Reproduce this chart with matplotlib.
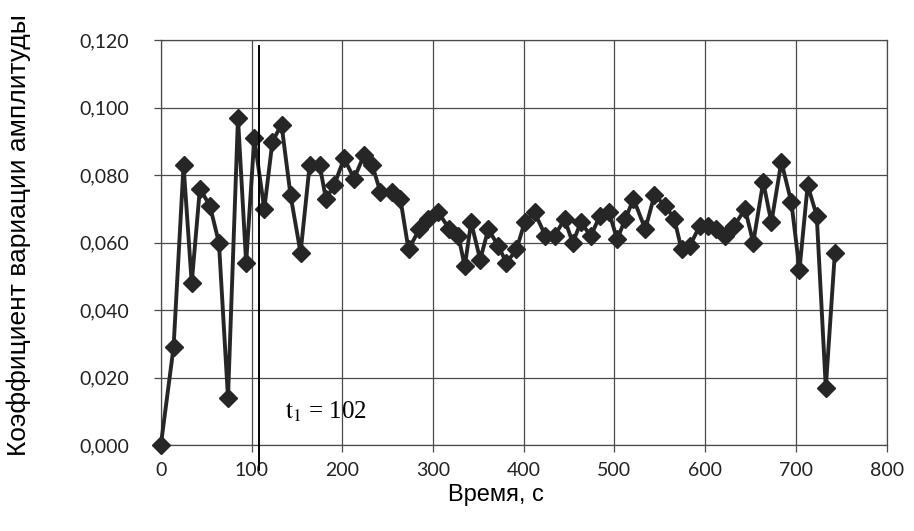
import matplotlib
matplotlib.use("Agg")
import matplotlib.pyplot as plt
from matplotlib.ticker import FuncFormatter

time_s = [0, 14, 25, 34, 43, 54, 64, 74, 85, 94, 103, 114, 123, 133, 143, 154,
          164, 175, 182, 191, 202, 213, 224, 233, 242, 255, 264, 273, 285, 295,
          306, 318, 328, 335, 342, 352, 361, 372, 381, 392, 401, 412, 424, 434,
          445, 454, 463, 474, 484, 494, 503, 512, 521, 534, 544, 556, 566, 574,
          583, 594, 603, 612, 622, 632, 644, 653, 664, 673, 684, 695, 704,
          713, 723, 733, 743]
coef = [0.000, 0.029, 0.083, 0.048, 0.076, 0.071, 0.060, 0.014, 0.097, 0.054,
        0.091, 0.070, 0.090, 0.095, 0.074, 0.057, 0.083, 0.083, 0.073, 0.077,
        0.085, 0.079, 0.086, 0.083, 0.075, 0.075, 0.073, 0.058, 0.064, 0.067,
        0.069, 0.064, 0.062, 0.053, 0.066, 0.055, 0.064, 0.059, 0.054, 0.058,
        0.066, 0.069, 0.062, 0.062, 0.067, 0.060, 0.066, 0.062, 0.068, 0.069,
        0.061, 0.067, 0.073, 0.064, 0.074, 0.071, 0.067, 0.058, 0.059, 0.065,
        0.065, 0.064, 0.062, 0.065, 0.070, 0.060, 0.078, 0.066, 0.084, 0.072,
        0.052, 0.077, 0.068, 0.017, 0.057]

t1_value = 102
t1_line_x = 108
x_ticks = [0, 100, 200, 300, 400, 500, 600, 700, 800]
y_ticks = [0.000, 0.020, 0.040, 0.060, 0.080, 0.100, 0.120]

plt.rcParams['mathtext.fontset'] = 'stix'

fig = plt.figure(figsize=(9.14, 5.31), dpi=100)
ax = fig.add_axes([0.176, 0.162, 0.794, 0.762])

ax.plot(time_s, coef, color='#262626', lw=2.8, marker='D', markersize=9,
        markerfacecolor='#262626', markeredgecolor='#262626', zorder=3,
        clip_on=False)

ax.set_xlim(0, 800)
ax.set_ylim(0, 0.120)
ax.set_xticks(x_ticks)
ax.set_yticks(y_ticks)
ax.yaxis.set_major_formatter(FuncFormatter(lambda v, p: f"{v:.3f}".replace('.', ',')))
ax.grid(True, color='#4a4a4a', lw=0.9)
ax.set_axisbelow(True)
for s in ax.spines.values():
    s.set_color('#4a4a4a')
    s.set_linewidth(0.9)
ax.tick_params(axis='both', direction='out', length=5, width=0.9, color='#4a4a4a',
               labelsize=14, labelcolor='#222222')
ax.tick_params(axis='y', pad=18)
ax.tick_params(axis='x', pad=7)
for lab in ax.get_xticklabels() + ax.get_yticklabels():
    lab.set_fontfamily('Lato')

ax.plot([t1_line_x, t1_line_x], [-0.0075, 0.1183], color='black', lw=1.4,
        clip_on=False, zorder=4)
ax.text(137, 0.0097, r"$\mathrm{t}_1$ = " + str(t1_value), fontsize=18,
        family='Liberation Serif', color='black', va='center')

fig.text(0.020, 0.557, "Коэффициент вариации амплитуды", rotation=90,
         ha='center', va='center', fontsize=19, family='Liberation Sans')
fig.text(0.543, 0.068, "Время, с", ha='center', va='center', fontsize=17,
         family='Liberation Sans')

fig.savefig("out.png", dpi=100)
